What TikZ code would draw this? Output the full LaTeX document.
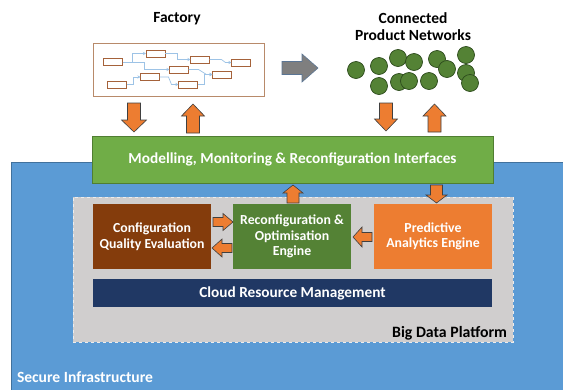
\documentclass[tikz,border=0pt]{standalone}
\usepackage{fontspec}
\setmainfont{Carlito}
\usetikzlibrary{calc,arrows.meta}
\definecolor{infrablue}{HTML}{5B9BD5}
\definecolor{infraline}{HTML}{41719C}
\definecolor{ifgreen}{HTML}{70AD47}
\definecolor{ifline}{HTML}{507E32}
\definecolor{platgray}{HTML}{D0CECE}
\definecolor{platline}{HTML}{EDEDED}
\definecolor{cqbrown}{HTML}{843C0C}
\definecolor{enggreen}{HTML}{548235}
\definecolor{paorange}{HTML}{ED7D31}
\definecolor{cloudnavy}{HTML}{203864}
\definecolor{arrorange}{HTML}{ED7D31}
\definecolor{arrline}{HTML}{404040}
\definecolor{dotgreen}{HTML}{548235}
\definecolor{dotline}{HTML}{2C4A1C}
\definecolor{facline}{HTML}{B88A6A}
\definecolor{smline}{HTML}{A5623A}
\definecolor{flowblue}{HTML}{9DC3E6}
\definecolor{bigarrgray}{HTML}{7F7F7F}
\definecolor{bigarrline}{HTML}{5A7594}
\begin{document}
\begin{tikzpicture}[x=1pt,y=-1pt,
  every node/.style={inner sep=0pt,outer sep=0pt},
  box/.style={rectangle,text=white,font=\fontsize{13.8}{15.5}\selectfont\bfseries,align=center},
  title/.style={font=\fontsize{15.5}{17}\selectfont\bfseries,align=center,text=black},
  dot/.style={circle,fill=dotgreen,draw=dotline,line width=0.7pt,minimum size=17pt},
  smbox/.style={rectangle,draw=smline,fill=white,line width=0.8pt,minimum width=19pt,minimum height=7pt},
  flow/.style={draw=flowblue,line width=0.7pt,-{Stealth[length=3pt,width=3pt]}},
  arr/.style={fill=arrorange,draw=arrline,line width=0.6pt,line join=miter},
  grayarr/.style={fill=bigarrgray,draw=bigarrline,line width=0.6pt,line join=miter},
  pics/blockarrow/.style args={#1/#2/#3/#4/#5}{code={
    \path[#5] (0,-#2) -- ({#1-#4},-#2) -- ({#1-#4},-#3) -- (#1,0) -- ({#1-#4},#3) -- ({#1-#4},#2) -- (0,#2) -- cycle;}}
]
\useasboundingbox (0,0) rectangle (563,389);
% background containers
\node[rectangle,fill=infrablue,draw=infraline,line width=0.6pt,minimum width=553pt,minimum height=228pt] (infra) at (287.5,276) {};
\node[rectangle,fill=platgray,draw=platline,dashed,line width=0.7pt,minimum width=440pt,minimum height=145pt] (plat) at (293,269.5) {};
\node[rectangle,fill=ifgreen,draw=ifline,line width=0.6pt,minimum width=401pt,minimum height=47pt,text=white,font=\fontsize{15.3}{17}\selectfont\bfseries] (iface) at (292.5,159.5) {Modelling, Monitoring \& Reconfiguration Interfaces};
% inner boxes
\node[box,fill=cqbrown,minimum width=118pt,minimum height=65pt] (cqe) at (152,236.5) {Configuration\\Quality Evaluation};
\node[box,fill=enggreen,minimum width=118pt,minimum height=65pt] (eng) at (292,236.5) {Reconfiguration \&\\Optimisation\\Engine};
\node[box,fill=paorange,minimum width=118pt,minimum height=65pt] (pae) at (433,236.5) {Predictive\\Analytics Engine};
\node[box,fill=cloudnavy,minimum width=399pt,minimum height=28pt,font=\fontsize{15.3}{17}\selectfont\bfseries] (cloud) at (292.5,293) {Cloud Resource Management};
\node[anchor=east,font=\fontsize{15.8}{17}\selectfont\bfseries,text=black] (bdp) at (507,333) {Big Data Platform};
\node[anchor=west,font=\fontsize{15.6}{17}\selectfont\bfseries,text=white] (sec) at (17,377) {Secure Infrastructure};
% titles
\node[title] (factt) at (177,19) {Factory};
\node[title] (cpnt) at (413,27) {Connected\\Product Networks};
% factory box
\node[rectangle,draw=facline,fill=white,line width=0.9pt,minimum width=171pt,minimum height=53pt] (fac) at (178.5,69.5) {};
\node[smbox] (b1) at (113,62) {};
\node[smbox] (b2) at (155.5,53.5) {};
\node[smbox] (b3) at (200,59.5) {};
\node[smbox] (b4) at (241,62.5) {};
\node[smbox] (b5) at (179,69.5) {};
\node[smbox] (b6) at (222,74.5) {};
\node[smbox] (b7) at (117,84.5) {};
\node[smbox] (b8) at (150,77) {};
\node[smbox] (b9) at (188,84.5) {};
\draw[flow] (b1.east) -- ++(10,0) |- (b2.west);
\draw[flow] (b1.east) -- ++(22,0) |- (b5.west);
\draw[flow] (b2.east) -- ++(12,0) |- (b3.west);
\draw[flow] (b3.east) -- ++(12,0) -- ($(b4.west)+(-6,0)$) -- (b4.west);
\draw[flow] (b5.east) -- ++(10,0) -- ($(b6.west)+(-6,0)$) -- (b6.west);
\draw[flow] (b7.east) -- ++(7,0) |- (b8.west);
\draw[flow] (b8.east) -- ++(9,0) -- ($(b9.west)+(-7,0)$) -- (b9.west);
\draw[flow] (b9.east) -- ++(7,0) |- (b6.west);
% connected product network dots
\foreach \n/\px/\py in {c1/356/70, c2/379/66, c3/379/86, c4/398/58, c5/399/82, c6/414/62, c7/409/81, c8/429/81, c9/437/59, c10/447/69, c11/466/55, c12/466/73, c13/470/83}
  \node[dot] (\n) at (\px,\py) {};
% gray arrow factory -> networks
\pic at ($(fac.east)+(18,-1.5)$) {blockarrow=36/6.5/14/16/grayarr};
% orange block arrows top
\pic[rotate=-90] at ($(fac.south)+(-44.5,7)$) {blockarrow=29/6.5/12.5/12/arr};
\pic[rotate=90] at ($(iface.north)+(-99.5,-3)$) {blockarrow=29/6.5/11.5/12/arr};
\pic[rotate=-90] at ($(iface.north)+(93.5,-33)$) {blockarrow=28/6.5/11.5/12/arr};
\pic[rotate=90] at ($(iface.north)+(142,-4)$) {blockarrow=28/6.5/11.5/12/arr};
% inner arrows
\pic[rotate=90] at ($(eng.north)+(1,-1)$) {blockarrow=18/6/10/8/arr};
\pic[rotate=-90] at ($(iface.south)+(144,2)$) {blockarrow=18/6/10.5/8/arr};
\pic at ($(cqe.east)+(2,-14.5)$) {blockarrow=20/4.5/8.5/10/arr};
\pic[rotate=180] at ($(eng.west)+(-1,11.5)$) {blockarrow=20/4.5/9/10/arr};
\pic[rotate=180] at ($(pae.west)+(-2,0.5)$) {blockarrow=19/4.5/10/9/arr};
\end{tikzpicture}
\end{document}
